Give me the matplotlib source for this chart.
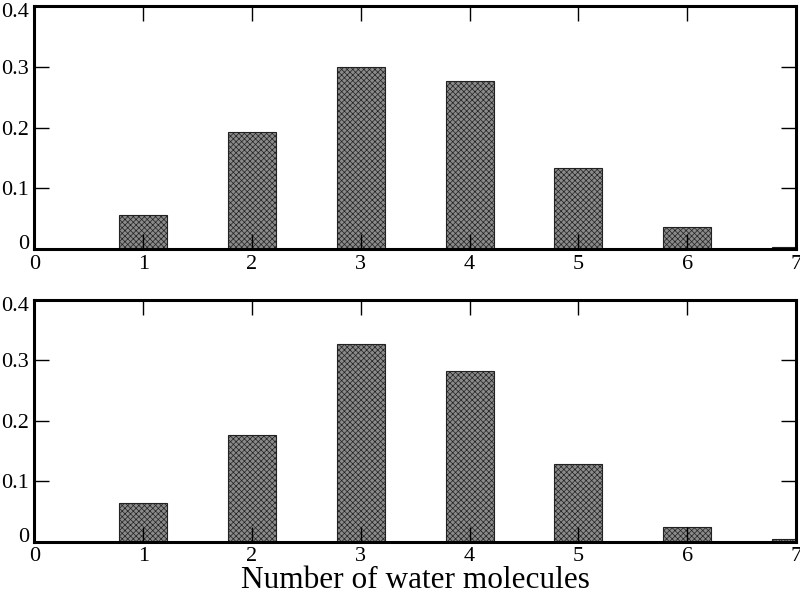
import matplotlib
matplotlib.use("Agg")
import matplotlib.pyplot as plt
import matplotlib.transforms as mtransforms
import numpy as np

plt.rcParams['font.family'] = ['Liberation Serif', 'DejaVu Serif']
plt.rcParams['hatch.color'] = '#f0f0f0'
plt.rcParams['hatch.linewidth'] = 0.5

n_water = [1, 2, 3, 4, 5, 6, 7]
top_values = [0.056, 0.192, 0.300, 0.277, 0.133, 0.036, 0.003]
bottom_values = [0.064, 0.177, 0.327, 0.282, 0.128, 0.025, 0.004]
xticks = [0, 1, 2, 3, 4, 5, 6, 7]
yticks = [0, 0.1, 0.2, 0.3, 0.4]
yticklabels = ['0', '0.1', '0.2', '0.3', '0.4']

fig = plt.figure(figsize=(8, 5.96), dpi=100, facecolor='w')
ax1 = fig.add_axes([0.043, 0.582, 0.952, 0.408])
ax2 = fig.add_axes([0.043, 0.091, 0.952, 0.406])

for ax, vals in ((ax1, top_values), (ax2, bottom_values)):
    ax.bar(n_water, vals, 0.44, color='#8a8a8a', edgecolor='#222222',
           linewidth=0.8, hatch='xxxxxx', zorder=1)
    ax.set_xlim(0, 7)
    ax.set_ylim(0, 0.4)
    ax.set_xticks(xticks)
    ax.set_yticks(yticks)
    ax.set_yticklabels(yticklabels)
    ax.tick_params(direction='in', length=11, width=1.0, labelsize=16,
                   top=True, right=True, pad=4)
    for s in ax.spines.values():
        s.set_linewidth(2.2)
        s.set_zorder(3)
    # end labels sit inside the axes span like the original
    ylabs = ax.get_yticklabels()
    ylabs[0].set_va('baseline')
    ylabs[-1].set_transform(ylabs[-1].get_transform() +
                            mtransforms.ScaledTranslation(0, -4 / 100, fig.dpi_scale_trans))

ax2.set_xlabel('Number of water molecules', fontsize=22.5, labelpad=0)

plt.savefig('out.png', dpi=100)
